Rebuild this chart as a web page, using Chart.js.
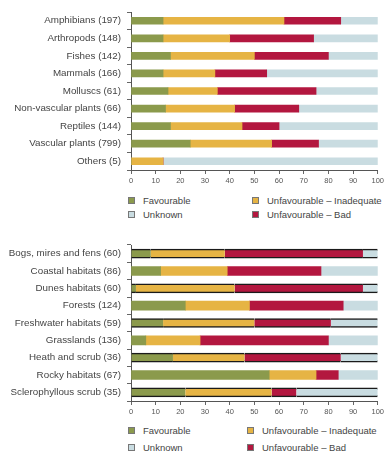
<!DOCTYPE html>
<html>
<head>
<meta charset="utf-8">
<script src="https://cdn.jsdelivr.net/npm/chart.js@4.4.0/dist/chart.umd.min.js"></script>
<style>
  html, body { margin: 0; padding: 0; background: #fff; }
  body { width: 386px; height: 451px; position: relative; overflow: hidden; font-family: "Liberation Sans", Arial, sans-serif; }
  .box { position: absolute; left: 0; width: 386px; }
  .legend { position: absolute; left: 128px; width: 258px; display: grid; font-size: 9.5px; color: #444; white-space: nowrap; }
  .legend span.item { display: flex; align-items: center; height: 10px; }
  .legend i { display: inline-block; width: 7px; height: 7px; margin-right: 8px; border: 1px solid #777; box-sizing: border-box; }
</style>
</head>
<body>
<div class="box" style="top:0;height:185px"><canvas id="species"></canvas></div>
<div class="legend" id="legend-species" style="top:195px;grid-template-columns:124px 134px;row-gap:4px"></div>
<div class="box" style="top:233px;height:183px"><canvas id="habitats"></canvas></div>
<div class="legend" id="legend-habitats" style="top:425px;grid-template-columns:119px 139px;row-gap:7px"></div>
<script>
/* ---------- data ---------- */
var statusNames = ['Favourable', 'Unfavourable \u2013 Inadequate', 'Unfavourable \u2013 Bad', 'Unknown'];
var statusColors = ['#8b9a4c', '#e6b444', '#b3173f', '#c9dce1'];

var speciesGroups = ['Amphibians (197)', 'Arthropods (148)', 'Fishes (142)', 'Mammals (166)', 'Molluscs (61)',
  'Non-vascular plants (66)', 'Reptiles (144)', 'Vascular plants (799)', 'Others (5)'];
var speciesFav  = [13, 13, 16, 13, 15, 14, 16, 24, 0];
var speciesInad = [49, 27, 34, 21, 20, 28, 29, 33, 13];
var speciesBad  = [23, 34, 30, 21, 40, 26, 15, 19, 0];
var speciesUnk  = [15, 26, 20, 45, 25, 32, 40, 24, 87];

var habitatGroups = ['Bogs, mires and fens (60)', 'Coastal habitats (86)', 'Dunes habitats (60)', 'Forests (124)',
  'Freshwater habitats (59)', 'Grasslands (136)', 'Heath and scrub (36)', 'Rocky habitats (67)', 'Sclerophyllous scrub (35)'];
var habitatFav  = [8, 12, 2, 22, 13, 6, 17, 56, 22];
var habitatInad = [30, 27, 40, 26, 37, 22, 29, 19, 35];
var habitatBad  = [56, 38, 52, 38, 31, 52, 39, 9, 10];
var habitatUnk  = [6, 23, 6, 14, 19, 20, 15, 16, 33];

var percentTicks = [0, 10, 20, 30, 40, 50, 60, 70, 80, 90, 100];

/* ---------- helpers ---------- */
function makeSets(series, outlined) {
  return series.map(function (values, i) {
    return {
      label: statusNames[i],
      data: values,
      backgroundColor: statusColors[i],
      borderColor: '#1a1a1a',
      borderSkipped: false,
      borderWidth: function (ctx) {
        // every other habitat row gets a dark edge above and below
        if (outlined && ctx.dataIndex % 2 === 0) return { top: 1.5, bottom: 1.5, left: 0, right: 0 };
        return 0;
      },
      barThickness: outlined ? 9 : 7
    };
  });
}

function makeChart(id, labels, series, outlined) {
  return new Chart(document.getElementById(id), {
    type: 'bar',
    data: { labels: labels, datasets: makeSets(series, outlined) },
    options: {
      indexAxis: 'y',
      responsive: true,
      maintainAspectRatio: false,
      animation: false,
      layout: { padding: { top: 12, right: 6, left: 0, bottom: 0 } },
      plugins: { legend: { display: false }, tooltip: { enabled: false } },
      scales: {
        x: {
          stacked: true, min: 0, max: 100,
          afterBuildTicks: function (scale) { scale.ticks = percentTicks.map(function (v) { return { value: v }; }); },
          afterFit: function (scale) { scale.height = 15; },
          ticks: { color: '#555', font: { size: 7.5 }, padding: 2, maxRotation: 0 },
          grid: { drawOnChartArea: false, tickLength: 4, color: '#666' },
          border: { color: '#555' }
        },
        y: {
          stacked: true,
          afterFit: function (scale) { scale.width = 131; },
          ticks: { color: '#444', font: { size: 9.8 }, padding: 6 },
          grid: { drawOnChartArea: false, tickLength: 4, color: '#666' },
          border: { color: '#555' }
        }
      }
    }
  });
}

// legend in a 2x2 grid: Favourable, Inadequate / Unknown, Bad
function buildLegend(id) {
  var order = [0, 1, 3, 2];
  var el = document.getElementById(id);
  order.forEach(function (k) {
    var s = document.createElement('span');
    s.className = 'item';
    s.innerHTML = '<i style="background:' + statusColors[k] + '"></i>' + statusNames[k];
    el.appendChild(s);
  });
}

Chart.defaults.font.family = '"Liberation Sans", Arial, sans-serif';

makeChart('species', speciesGroups, [speciesFav, speciesInad, speciesBad, speciesUnk], false);
makeChart('habitats', habitatGroups, [habitatFav, habitatInad, habitatBad, habitatUnk], true);
buildLegend('legend-species');
buildLegend('legend-habitats');
</script>
</body>
</html>
